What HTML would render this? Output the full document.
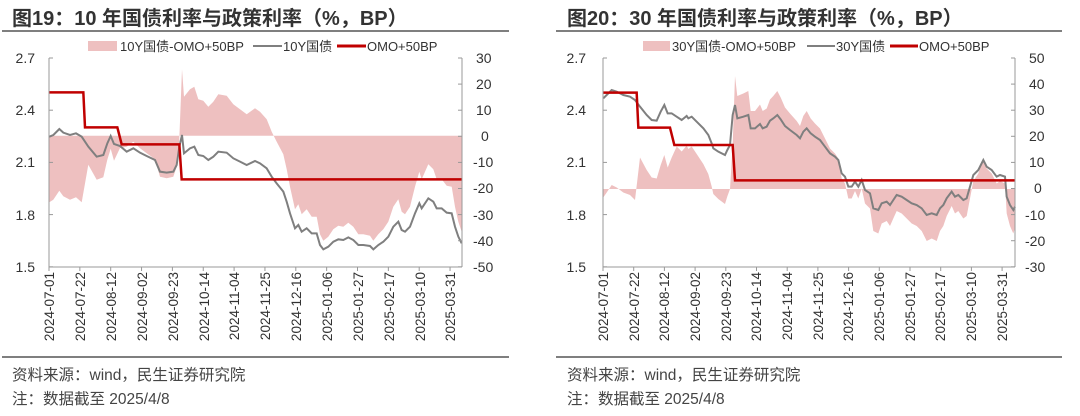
<!DOCTYPE html>
<html><head><meta charset="utf-8"><style>
body{margin:0;width:1080px;height:411px;background:#fff;overflow:hidden}
svg{font-family:"Liberation Sans","Noto Sans CJK SC",sans-serif}
</style></head><body>
<svg id="s" width="1080" height="411" xmlns="http://www.w3.org/2000/svg">
<g fill="#333" font-weight="bold" font-size="20">
<text x="12" y="25">图19：10 年国债利率与政策利率（%，BP）</text>
<text x="567" y="25">图20：30 年国债利率与政策利率（%，BP）</text>
</g>
<line x1="2" y1="31" x2="509" y2="31" stroke="#555" stroke-width="1.5"/>
<line x1="556" y1="31" x2="1062" y2="31" stroke="#555" stroke-width="1.5"/>
<line x1="2" y1="357" x2="509" y2="357" stroke="#555" stroke-width="1.5"/>
<line x1="556" y1="357" x2="1062" y2="357" stroke="#555" stroke-width="1.5"/>
<g fill="#444" font-size="15.5">
<text x="12" y="380">资料来源：wind，民生证券研究院</text>
<text x="12" y="404">注：数据截至 2025/4/8</text>
<text x="567" y="380">资料来源：wind，民生证券研究院</text>
<text x="567" y="404">注：数据截至 2025/4/8</text>
</g>
<g font-size="13" fill="#333">
<rect x="88" y="41" width="29" height="10" fill="#eec0c0"/><text x="120" y="51">10Y国债-OMO+50BP</text>
<line x1="253" y1="46" x2="282" y2="46" stroke="#7f7f7f" stroke-width="2"/><text x="283" y="51">10Y国债</text>
<line x1="337" y1="46" x2="366" y2="46" stroke="#c00000" stroke-width="3"/><text x="367" y="51">OMO+50BP</text>
<rect x="643" y="41" width="27" height="10" fill="#eec0c0"/><text x="672" y="51">30Y国债-OMO+50BP</text>
<line x1="807" y1="46" x2="835" y2="46" stroke="#7f7f7f" stroke-width="2"/><text x="836" y="51">30Y国债</text>
<line x1="890" y1="46" x2="918" y2="46" stroke="#c00000" stroke-width="3"/><text x="919" y="51">OMO+50BP</text>
</g>
<g font-size="14" fill="#333" text-anchor="end">
<text x="35" y="63">2.7</text><text x="35" y="115">2.4</text><text x="35" y="167">2.1</text><text x="35" y="220">1.8</text><text x="35" y="272">1.5</text>
<text x="586" y="63">2.7</text><text x="586" y="115">2.4</text><text x="586" y="167">2.1</text><text x="586" y="220">1.8</text><text x="586" y="272">1.5</text>
</g>
<g font-size="14" fill="#333">
<text x="476" y="63">30</text><text x="476" y="89">20</text><text x="476" y="115">10</text><text x="481" y="141">0</text><text x="473" y="167">-10</text><text x="473" y="193">-20</text><text x="473" y="220">-30</text><text x="473" y="246">-40</text><text x="473" y="272">-50</text>
<text x="1029" y="63">50</text><text x="1029" y="89">40</text><text x="1029" y="115">30</text><text x="1029" y="141">20</text><text x="1029" y="167">10</text><text x="1034" y="193">0</text><text x="1025" y="220">-10</text><text x="1025" y="246">-20</text><text x="1025" y="272">-30</text>
</g>
<g font-size="13.5" fill="#333" text-anchor="end">
<g transform="translate(54,272) rotate(-90)"><text>2024-07-01</text></g>
<g transform="translate(85,272) rotate(-90)"><text>2024-07-22</text></g>
<g transform="translate(116,272) rotate(-90)"><text>2024-08-12</text></g>
<g transform="translate(147,272) rotate(-90)"><text>2024-09-02</text></g>
<g transform="translate(178,272) rotate(-90)"><text>2024-09-23</text></g>
<g transform="translate(209,272) rotate(-90)"><text>2024-10-14</text></g>
<g transform="translate(239,272) rotate(-90)"><text>2024-11-04</text></g>
<g transform="translate(270,272) rotate(-90)"><text>2024-11-25</text></g>
<g transform="translate(301,272) rotate(-90)"><text>2024-12-16</text></g>
<g transform="translate(332,272) rotate(-90)"><text>2025-01-06</text></g>
<g transform="translate(363,272) rotate(-90)"><text>2025-01-27</text></g>
<g transform="translate(394,272) rotate(-90)"><text>2025-02-17</text></g>
<g transform="translate(425,272) rotate(-90)"><text>2025-03-10</text></g>
<g transform="translate(455,272) rotate(-90)"><text>2025-03-31</text></g>
<g transform="translate(608,272) rotate(-90)"><text>2024-07-01</text></g>
<g transform="translate(639,272) rotate(-90)"><text>2024-07-22</text></g>
<g transform="translate(669,272) rotate(-90)"><text>2024-08-12</text></g>
<g transform="translate(700,272) rotate(-90)"><text>2024-09-02</text></g>
<g transform="translate(731,272) rotate(-90)"><text>2024-09-23</text></g>
<g transform="translate(761,272) rotate(-90)"><text>2024-10-14</text></g>
<g transform="translate(792,272) rotate(-90)"><text>2024-11-04</text></g>
<g transform="translate(823,272) rotate(-90)"><text>2024-11-25</text></g>
<g transform="translate(853,272) rotate(-90)"><text>2024-12-16</text></g>
<g transform="translate(884,272) rotate(-90)"><text>2025-01-06</text></g>
<g transform="translate(915,272) rotate(-90)"><text>2025-01-27</text></g>
<g transform="translate(945,272) rotate(-90)"><text>2025-02-17</text></g>
<g transform="translate(976,272) rotate(-90)"><text>2025-03-10</text></g>
<g transform="translate(1007,272) rotate(-90)"><text>2025-03-31</text></g>
</g>
</svg>
<script>
var NS="http://www.w3.org/2000/svg",S=document.getElementById("s");
function el(t,a){var e=document.createElementNS(NS,t);for(var k in a)e.setAttribute(k,a[k]);S.appendChild(e);return e;}
var g1=[[148,410],[160,405],[178,387],[190,398],[210,405],[228,400],[245,410],[265,440],[290,470],[310,465],[322,430],[332,408],[342,432],[360,438],[380,455],[400,445],[420,458],[440,468],[465,480],[480,515],[500,518],[520,515],[530,495],[538,440],[546,405],[552,460],[570,445],[583,440],[595,465],[610,468],[625,480],[640,470],[655,455],[680,458],[700,475],[720,485],[740,495],[765,483],[780,490],[800,505],[815,530],[830,550],[850,575],[860,605],[870,640],[885,685],[895,675],[905,695],[920,685],[935,700],[950,700],[960,735],[970,748],[985,740],[1000,725],[1015,718],[1030,720],[1045,712],[1060,720],[1075,735],[1090,735],[1110,738],[1120,748],[1135,735],[1150,725],[1165,710],[1180,680],[1195,665],[1205,690],[1215,695],[1230,680],[1245,640],[1258,610],[1265,625],[1285,595],[1300,605],[1310,625],[1325,625],[1340,638],[1355,640],[1365,680],[1375,710],[1385,730]];
var r1=[[148,277],[250,277],[255,382],[352,382],[365,433],[538,433],[545,538],[1387,538]];
var g2=[[190,295],[200,285],[215,270],[230,275],[250,285],[270,290],[285,300],[300,320],[320,345],[335,360],[350,362],[362,335],[373,315],[383,340],[395,340],[410,350],[425,360],[440,348],[445,355],[455,350],[470,365],[490,385],[505,405],[515,430],[520,445],[535,455],[555,465],[562,450],[570,435],[578,345],[585,315],[592,355],[610,350],[625,345],[632,385],[645,385],[660,372],[668,385],[680,380],[690,362],[700,355],[712,345],[722,358],[735,378],[750,390],[770,405],[780,415],[790,395],[800,385],[812,400],[825,410],[840,420],[855,440],[870,460],[885,470],[895,480],[905,520],[915,530],[925,560],[935,560],[945,545],[955,560],[965,540],[975,570],[990,580],[1000,625],[1015,630],[1025,610],[1040,605],[1050,615],[1060,600],[1070,585],[1085,590],[1100,600],[1115,610],[1130,615],[1145,625],[1160,645],[1175,640],[1190,645],[1200,625],[1210,615],[1220,595],[1235,575],[1245,590],[1255,585],[1270,600],[1280,595],[1290,560],[1300,525],[1315,510],[1330,480],[1340,500],[1355,510],[1370,530],[1380,525],[1395,530],[1400,590],[1410,615],[1420,630],[1425,620]];
var r2=[[190,278],[290,278],[295,383],[390,383],[403,435],[578,435],[585,541],[1425,541]];
function interp(p,x){for(var i=1;i<p.length;i++){if(x<=p[i][0]){var a=p[i-1],b=p[i];var t=(b[0]==a[0])?1:(x-a[0])/(b[0]-a[0]);return a[1]+t*(b[1]-a[1]);}}return p[p.length-1][1];}
function chart(g,r,ox,x0,x1,zero,tick0,step){
 var T=function(p){return [(p[0]/3+ox),p[1]/3];};
 var G=g.map(T),R=r.map(T);
 var area="M"+G[0][0]+","+zero;
 G.forEach(function(p){var ry=interp(R,p[0]);area+=" L"+p[0].toFixed(1)+","+(zero+(p[1]-ry)*1.5).toFixed(1);});
 area+=" L"+G[G.length-1][0]+","+zero+"Z";
 el("path",{d:area,fill:"#eec0c0"});
 el("polyline",{points:G.map(function(p){return p.join(",")}).join(" "),fill:"none",stroke:"#7f7f7f","stroke-width":2});
 el("polyline",{points:R.map(function(p){return p.join(",")}).join(" "),fill:"none",stroke:"#c00000","stroke-width":2.5});
 var ax="#999";
 el("line",{x1:x0,y1:58,x2:x0,y2:267,stroke:ax});
 el("line",{x1:x1,y1:58,x2:x1,y2:267,stroke:ax});
 el("line",{x1:x0,y1:267,x2:x1,y2:267,stroke:ax});
 for(var i=0;i<9;i++){var y=58+i*26.1;el("line",{x1:x1-4,y1:y,x2:x1,y2:y,stroke:ax});if(i%2==0)el("line",{x1:x0,y1:y,x2:x0+4,y2:y,stroke:ax});}
 for(var i=0;i<14;i++){var x=tick0+i*step;el("line",{x1:x,y1:267,x2:x,y2:271,stroke:ax});}
}
chart(g1,r1,0,49,462,135.7,49,30.85);
chart(g2,r2,540,603,1015,189,603,30.7);
</script>
</body></html>
